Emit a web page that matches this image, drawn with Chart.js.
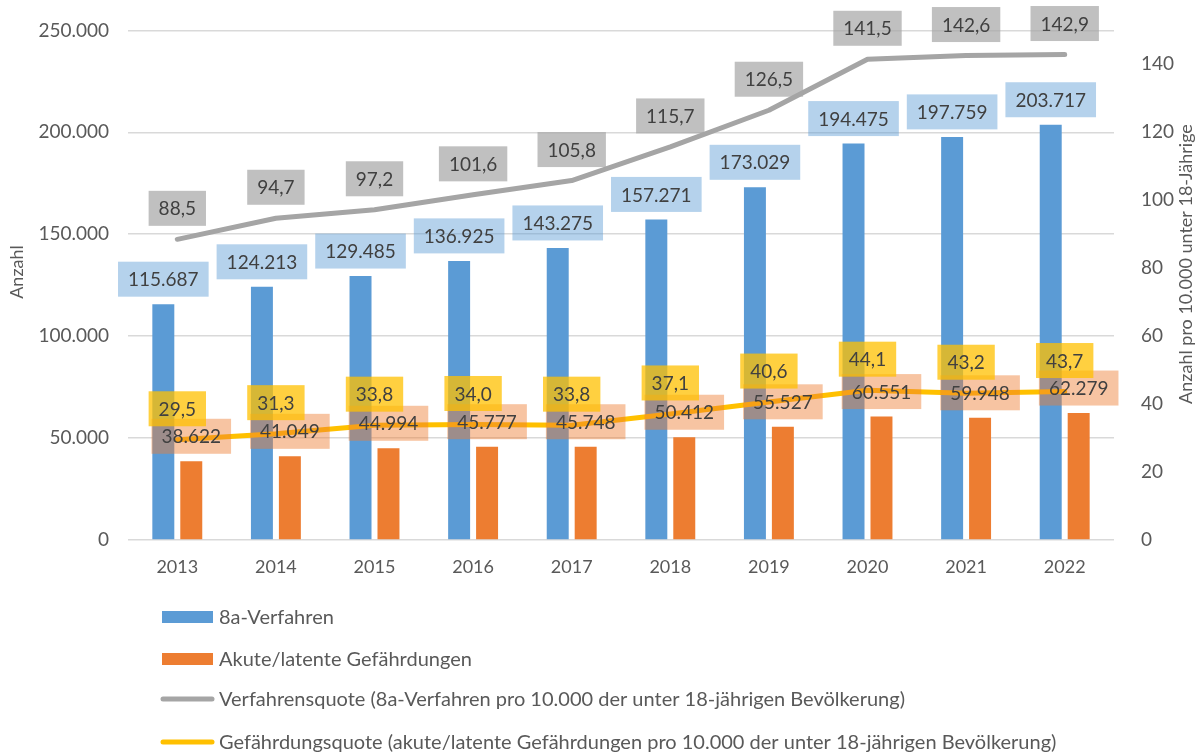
<!DOCTYPE html>
<html lang="de">
<head>
<meta charset="utf-8">
<title>8a-Verfahren und Gefährdungen 2013–2022</title>
<script src="https://cdn.jsdelivr.net/npm/chart.js@4/dist/chart.umd.min.js"></script>
<style>
  html, body { margin: 0; padding: 0; background: #fff; }
  #wrap { width: 1196px; height: 753px; }
</style>
</head>
<body>
<div id="wrap"><canvas id="grafik"></canvas></div>
<script>
// Daten
const jahre = ['2013', '2014', '2015', '2016', '2017', '2018', '2019', '2020', '2021', '2022'];
const verfahren = [115687, 124213, 129485, 136925, 143275, 157271, 173029, 194475, 197759, 203717];
const gefaehrdungen = [38622, 41049, 44994, 45777, 45748, 50412, 55527, 60551, 59948, 62279];
const verfahrensquote = [88.5, 94.7, 97.2, 101.6, 105.8, 115.7, 126.5, 141.5, 142.6, 142.9];
const gefaehrdungsquote = [29.5, 31.3, 33.8, 34.0, 33.8, 37.1, 40.6, 44.1, 43.2, 43.7];

// Achsenbeschriftungen
const ticksAnzahl = [0, 50000, 100000, 150000, 200000, 250000];
const ticksQuote = [0, 20, 40, 60, 80, 100, 120, 140];
const titelLinks = 'Anzahl';
const titelRechts = 'Anzahl pro 10.000 unter 18-Jährige';

const schrift = 'Lato, "Open Sans", sans-serif';
const grau = '#595959';

// Zahlen im deutschen Format
function fmtZahl(v) {
    return String(v).replace(/\B(?=(\d{3})+(?!\d))/g, '.');
}
function fmtQuote(v) {
    return v.toFixed(1).replace('.', ',');
}

// Farben der Wertebeschriftungen (Kasten)
const kastenFarben = [
    'rgba(91,155,213,0.45)',
    'rgba(237,125,49,0.45)',
    'rgba(165,165,165,0.7)',
    'rgba(255,192,0,0.75)'
];

// Plugin: Wertebeschriftungen mit Hintergrundkasten
const wertePlugin = {
    id: 'werte',
    afterDatasetsDraw(chart) {
        const ctx = chart.ctx;
        ctx.save();
        ctx.font = '19px ' + schrift;
        ctx.textAlign = 'center';
        ctx.textBaseline = 'middle';
        chart.data.datasets.forEach((ds, i) => {
            const meta = chart.getDatasetMeta(i);
            meta.data.forEach((el, j) => {
                const wert = ds.data[j];
                const text = ds.type === 'line' ? fmtQuote(wert) : fmtZahl(wert);
                const w = ctx.measureText(text).width + 20;
                const h = 35;
                const cy = ds.type === 'line' ? el.y - 31 : el.y - 25;
                ctx.fillStyle = kastenFarben[i];
                ctx.fillRect(el.x - w / 2, cy - h / 2, w, h);
                ctx.fillStyle = '#404040';
                ctx.fillText(text, el.x, cy + 1);
            });
        });
        ctx.restore();
    }
};

// Plugin: Achsentitel (gedreht)
const titelPlugin = {
    id: 'achsentitel',
    afterDraw(chart) {
        const ctx = chart.ctx;
        ctx.save();
        ctx.font = '18px ' + schrift;
        ctx.fillStyle = grau;
        ctx.textAlign = 'center';
        ctx.textBaseline = 'middle';
        ctx.translate(17, 272);
        ctx.rotate(-Math.PI / 2);
        ctx.fillText(titelLinks, 0, 0);
        ctx.restore();

        ctx.save();
        ctx.font = '18px ' + schrift;
        ctx.fillStyle = grau;
        ctx.textAlign = 'center';
        ctx.textBaseline = 'middle';
        ctx.translate(1186, 264);
        ctx.rotate(-Math.PI / 2);
        ctx.fillText(titelRechts, 0, 0);
        ctx.restore();
    }
};

// Plugin: Legende untereinander
const legendePlugin = {
    id: 'legendeUntereinander',
    afterDraw(chart) {
        const ctx = chart.ctx;
        const yPos = [617, 659, 699, 742];
        ctx.save();
        ctx.font = '20px ' + schrift;
        ctx.textBaseline = 'middle';
        ctx.textAlign = 'left';
        chart.data.datasets.forEach((ds, i) => {
            const y = yPos[i];
            if (ds.type === 'line') {
                ctx.strokeStyle = ds.borderColor;
                ctx.lineWidth = 5;
                ctx.lineCap = 'round';
                ctx.beginPath();
                ctx.moveTo(163, y);
                ctx.lineTo(212, y);
                ctx.stroke();
            } else {
                ctx.fillStyle = ds.backgroundColor;
                ctx.fillRect(162, y - 6, 51, 12);
            }
            ctx.fillStyle = grau;
            ctx.fillText(ds.label, 219, y + 1);
        });
        ctx.restore();
    }
};

const ctx = document.getElementById('grafik').getContext('2d');
new Chart(ctx, {
    data: {
        labels: jahre,
        datasets: [
            {
                type: 'bar',
                label: '8a-Verfahren',
                data: verfahren,
                backgroundColor: '#5B9BD5',
                yAxisID: 'y',
                order: 3,
                categoryPercentage: 0.567,
                barPercentage: 0.786
            },
            {
                type: 'bar',
                label: 'Akute/latente Gefährdungen',
                data: gefaehrdungen,
                backgroundColor: '#ED7D31',
                yAxisID: 'y',
                order: 3,
                categoryPercentage: 0.567,
                barPercentage: 0.786
            },
            {
                type: 'line',
                label: 'Verfahrensquote (8a-Verfahren pro 10.000 der unter 18-jährigen Bevölkerung)',
                data: verfahrensquote,
                borderColor: '#A5A5A5',
                borderWidth: 5,
                pointRadius: 0,
                borderCapStyle: 'round',
                borderJoinStyle: 'round',
                yAxisID: 'y1',
                order: 1
            },
            {
                type: 'line',
                label: 'Gefährdungsquote (akute/latente Gefährdungen pro 10.000 der unter 18-jährigen Bevölkerung)',
                data: gefaehrdungsquote,
                borderColor: '#FFC000',
                borderWidth: 5,
                pointRadius: 0,
                borderCapStyle: 'round',
                borderJoinStyle: 'round',
                yAxisID: 'y1',
                order: 1
            }
        ]
    },
    options: {
        responsive: true,
        maintainAspectRatio: false,
        animation: false,
        layout: { padding: { top: 26, bottom: 173, left: 0, right: 0 } },
        plugins: {
            legend: { display: false },
            tooltip: { enabled: false }
        },
        scales: {
            x: {
                grid: { display: false },
                border: { display: false },
                ticks: { color: grau, font: { family: schrift, size: 18 }, padding: 8 },
                afterFit: s => { s.height = 40; }
            },
            y: {
                position: 'left',
                min: 0,
                max: 250000,
                afterBuildTicks: s => { s.ticks = ticksAnzahl.map(v => ({ value: v })); },
                grid: { color: '#d9d9d9', lineWidth: 1.5, drawTicks: false },
                border: { display: false },
                ticks: {
                    color: grau,
                    font: { family: schrift, size: 19 },
                    padding: 19,
                    callback: v => fmtZahl(v)
                },
                afterFit: s => { s.width = 128; }
            },
            y1: {
                position: 'right',
                min: 0,
                max: 150,
                afterBuildTicks: s => { s.ticks = ticksQuote.map(v => ({ value: v })); },
                grid: { display: false },
                border: { display: false },
                ticks: {
                    color: grau,
                    font: { family: schrift, size: 19 },
                    padding: 19
                },
                afterFit: s => { s.width = 82; }
            }
        }
    },
    plugins: [wertePlugin, titelPlugin, legendePlugin]
});
</script>
</body>
</html>
